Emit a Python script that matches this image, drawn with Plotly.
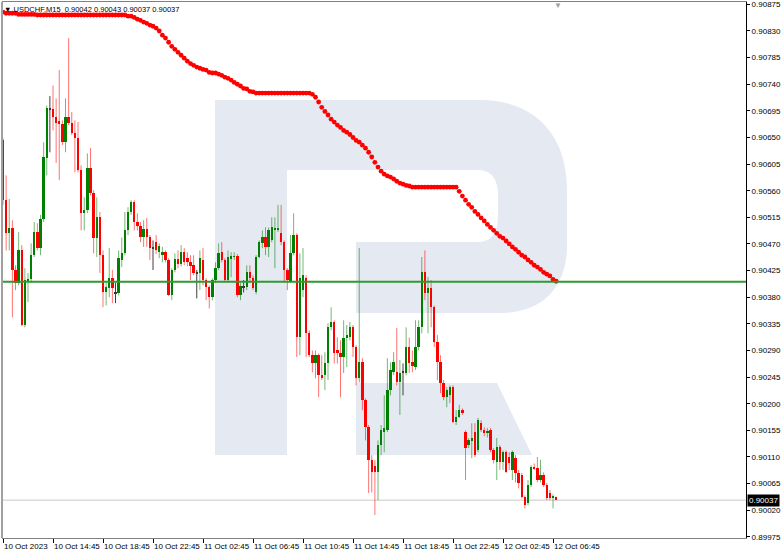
import plotly.graph_objects as go

# ---------------- data (USDCHF, M15) ----------------
open_ = [
    0.90645, 0.90544, 0.90488, 0.90497, 0.90426, 0.90404, 0.90459, 0.90333, 0.90405, 0.90410,
    0.90451, 0.90490, 0.90463, 0.90512, 0.90615, 0.90698, 0.90698, 0.90684, 0.90678, 0.90672,
    0.90642, 0.90684, 0.90674, 0.90657, 0.90649, 0.90595, 0.90522, 0.90527, 0.90598, 0.90556,
    0.90480, 0.90515, 0.90451, 0.90388, 0.90395, 0.90412, 0.90387, 0.90387, 0.90443, 0.90454,
    0.90493, 0.90524, 0.90541, 0.90507, 0.90500, 0.90481, 0.90495, 0.90481, 0.90463, 0.90473,
    0.90456, 0.90453, 0.90456, 0.90443, 0.90383, 0.90426, 0.90444, 0.90436, 0.90456, 0.90446,
    0.90439, 0.90434, 0.90421, 0.90421, 0.90443, 0.90409, 0.90397, 0.90380, 0.90409, 0.90429,
    0.90456, 0.90443, 0.90409, 0.90446, 0.90448, 0.90449, 0.90383, 0.90397, 0.90397, 0.90422,
    0.90412, 0.90388, 0.90448, 0.90471, 0.90481, 0.90465, 0.90476, 0.90493, 0.90495, 0.90488,
    0.90473, 0.90426, 0.90405, 0.90454, 0.90485, 0.90312, 0.90392, 0.90412, 0.90319, 0.90282,
    0.90268, 0.90282, 0.90248, 0.90248, 0.90268, 0.90329, 0.90338, 0.90290, 0.90285, 0.90279,
    0.90311, 0.90312, 0.90329, 0.90296, 0.90243, 0.90270, 0.90206, 0.90160, 0.90105, 0.90094,
    0.90084, 0.90130, 0.90152, 0.90155, 0.90223, 0.90253, 0.90253, 0.90236, 0.90253, 0.90252,
    0.90296, 0.90270, 0.90262, 0.90296, 0.90329, 0.90422, 0.90387, 0.90395, 0.90363, 0.90304,
    0.90270, 0.90235, 0.90211, 0.90214, 0.90228, 0.90169, 0.90177, 0.90189, 0.90152, 0.90130,
    0.90137, 0.90152, 0.90121, 0.90167, 0.90155, 0.90150, 0.90155, 0.90121, 0.90101, 0.90127,
    0.90101, 0.90118, 0.90110, 0.90088, 0.90108, 0.90083, 0.90079, 0.90042, 0.90032, 0.90062,
    0.90093, 0.90091, 0.90071, 0.90079, 0.90062, 0.90049, 0.90040, 0.90042,
]
high = [
    0.90649, 0.90586, 0.90546, 0.90510, 0.90434, 0.90490, 0.90468, 0.90429, 0.90421, 0.90471,
    0.90507, 0.90505, 0.90519, 0.90642, 0.90704, 0.90720, 0.90738, 0.90716, 0.90764, 0.90679,
    0.90716, 0.90818, 0.90693, 0.90679, 0.90676, 0.90603, 0.90549, 0.90623, 0.90632, 0.90561,
    0.90549, 0.90524, 0.90459, 0.90404, 0.90463, 0.90426, 0.90404, 0.90459, 0.90481, 0.90524,
    0.90532, 0.90544, 0.90544, 0.90522, 0.90507, 0.90510, 0.90514, 0.90485, 0.90476, 0.90485,
    0.90471, 0.90465, 0.90459, 0.90446, 0.90429, 0.90454, 0.90459, 0.90468, 0.90463, 0.90456,
    0.90451, 0.90451, 0.90426, 0.90459, 0.90463, 0.90412, 0.90400, 0.90412, 0.90439, 0.90471,
    0.90473, 0.90446, 0.90459, 0.90456, 0.90456, 0.90453, 0.90404, 0.90409, 0.90434, 0.90434,
    0.90417, 0.90451, 0.90476, 0.90493, 0.90498, 0.90498, 0.90515, 0.90515, 0.90536, 0.90536,
    0.90476, 0.90429, 0.90485, 0.90522, 0.90488, 0.90454, 0.90463, 0.90417, 0.90324, 0.90290,
    0.90290, 0.90285, 0.90282, 0.90287, 0.90336, 0.90363, 0.90341, 0.90312, 0.90307, 0.90341,
    0.90333, 0.90338, 0.90333, 0.90299, 0.90463, 0.90277, 0.90209, 0.90164, 0.90113, 0.90105,
    0.90138, 0.90164, 0.90214, 0.90277, 0.90270, 0.90287, 0.90328, 0.90274, 0.90268, 0.90329,
    0.90312, 0.90290, 0.90341, 0.90341, 0.90448, 0.90459, 0.90414, 0.90409, 0.90366, 0.90316,
    0.90282, 0.90240, 0.90228, 0.90231, 0.90231, 0.90189, 0.90198, 0.90192, 0.90155, 0.90142,
    0.90167, 0.90167, 0.90176, 0.90172, 0.90160, 0.90159, 0.90159, 0.90125, 0.90142, 0.90130,
    0.90121, 0.90121, 0.90118, 0.90121, 0.90113, 0.90088, 0.90083, 0.90045, 0.90071, 0.90096,
    0.90099, 0.90110, 0.90105, 0.90084, 0.90066, 0.90054, 0.90047, 0.90043,
]
low = [
    0.90536, 0.90459, 0.90459, 0.90346, 0.90392, 0.90400, 0.90331, 0.90329, 0.90372, 0.90404,
    0.90448, 0.90459, 0.90451, 0.90507, 0.90586, 0.90625, 0.90662, 0.90607, 0.90578, 0.90637,
    0.90625, 0.90671, 0.90654, 0.90591, 0.90591, 0.90493, 0.90493, 0.90522, 0.90552, 0.90454,
    0.90448, 0.90421, 0.90363, 0.90366, 0.90380, 0.90370, 0.90370, 0.90383, 0.90431, 0.90451,
    0.90485, 0.90519, 0.90493, 0.90493, 0.90473, 0.90465, 0.90465, 0.90443, 0.90426, 0.90453,
    0.90446, 0.90439, 0.90439, 0.90382, 0.90375, 0.90422, 0.90429, 0.90432, 0.90434, 0.90432,
    0.90409, 0.90417, 0.90378, 0.90392, 0.90400, 0.90375, 0.90361, 0.90375, 0.90404, 0.90426,
    0.90439, 0.90405, 0.90405, 0.90414, 0.90443, 0.90380, 0.90375, 0.90388, 0.90392, 0.90405,
    0.90392, 0.90385, 0.90446, 0.90463, 0.90451, 0.90448, 0.90473, 0.90429, 0.90490, 0.90468,
    0.90405, 0.90392, 0.90404, 0.90451, 0.90279, 0.90282, 0.90380, 0.90279, 0.90279, 0.90253,
    0.90243, 0.90211, 0.90240, 0.90223, 0.90240, 0.90324, 0.90268, 0.90268, 0.90211, 0.90252,
    0.90262, 0.90307, 0.90279, 0.90231, 0.90236, 0.90189, 0.90138, 0.90049, 0.90050, 0.90012,
    0.90037, 0.90113, 0.90118, 0.90152, 0.90214, 0.90248, 0.90231, 0.90181, 0.90214, 0.90248,
    0.90252, 0.90253, 0.90257, 0.90290, 0.90319, 0.90375, 0.90319, 0.90329, 0.90296, 0.90240,
    0.90218, 0.90206, 0.90194, 0.90201, 0.90167, 0.90164, 0.90176, 0.90181, 0.90071, 0.90125,
    0.90108, 0.90110, 0.90118, 0.90152, 0.90145, 0.90143, 0.90118, 0.90099, 0.90071, 0.90088,
    0.90088, 0.90083, 0.90088, 0.90071, 0.90067, 0.90057, 0.90040, 0.90023, 0.90028, 0.90059,
    0.90088, 0.90067, 0.90067, 0.90059, 0.90037, 0.90037, 0.90023, 0.90037,
]
close = [
    0.90544, 0.90488, 0.90497, 0.90426, 0.90404, 0.90459, 0.90333, 0.90409, 0.90410, 0.90451,
    0.90490, 0.90463, 0.90512, 0.90617, 0.90700, 0.90698, 0.90684, 0.90674, 0.90672, 0.90642,
    0.90684, 0.90674, 0.90657, 0.90649, 0.90595, 0.90522, 0.90527, 0.90598, 0.90556, 0.90480,
    0.90515, 0.90451, 0.90388, 0.90397, 0.90412, 0.90395, 0.90387, 0.90446, 0.90454, 0.90493,
    0.90524, 0.90541, 0.90507, 0.90500, 0.90481, 0.90495, 0.90481, 0.90463, 0.90463, 0.90459,
    0.90466, 0.90456, 0.90443, 0.90383, 0.90426, 0.90444, 0.90436, 0.90456, 0.90439, 0.90439,
    0.90432, 0.90421, 0.90421, 0.90446, 0.90409, 0.90397, 0.90380, 0.90409, 0.90429, 0.90454,
    0.90443, 0.90409, 0.90448, 0.90449, 0.90449, 0.90383, 0.90399, 0.90397, 0.90422, 0.90412,
    0.90395, 0.90448, 0.90473, 0.90481, 0.90465, 0.90493, 0.90498, 0.90497, 0.90497, 0.90473,
    0.90426, 0.90409, 0.90454, 0.90485, 0.90312, 0.90412, 0.90417, 0.90319, 0.90282, 0.90268,
    0.90282, 0.90248, 0.90245, 0.90268, 0.90329, 0.90338, 0.90285, 0.90285, 0.90279, 0.90311,
    0.90316, 0.90329, 0.90296, 0.90243, 0.90270, 0.90206, 0.90160, 0.90105, 0.90084, 0.90084,
    0.90130, 0.90155, 0.90159, 0.90223, 0.90257, 0.90270, 0.90236, 0.90252, 0.90253, 0.90296,
    0.90268, 0.90263, 0.90296, 0.90329, 0.90422, 0.90387, 0.90395, 0.90363, 0.90304, 0.90270,
    0.90235, 0.90211, 0.90223, 0.90228, 0.90169, 0.90177, 0.90189, 0.90184, 0.90125, 0.90138,
    0.90142, 0.90113, 0.90172, 0.90155, 0.90150, 0.90154, 0.90121, 0.90105, 0.90127, 0.90101,
    0.90118, 0.90084, 0.90099, 0.90118, 0.90083, 0.90066, 0.90042, 0.90028, 0.90062, 0.90093,
    0.90091, 0.90071, 0.90079, 0.90062, 0.90040, 0.90040, 0.90044, 0.90037,
]
# red dotted indicator line, one value per bar
ma_line = [
    0.90862, 0.90860, 0.90860, 0.90860, 0.90860, 0.90858, 0.90858, 0.90858, 0.90858, 0.90858,
    0.90858, 0.90857, 0.90857, 0.90857, 0.90857, 0.90857, 0.90857, 0.90857, 0.90857, 0.90857,
    0.90857, 0.90857, 0.90857, 0.90857, 0.90857, 0.90857, 0.90857, 0.90857, 0.90857, 0.90857,
    0.90857, 0.90857, 0.90857, 0.90857, 0.90857, 0.90857, 0.90857, 0.90857, 0.90857, 0.90857,
    0.90855, 0.90855, 0.90853, 0.90850, 0.90848, 0.90845, 0.90843, 0.90840, 0.90838, 0.90835,
    0.90830, 0.90823, 0.90818, 0.90811, 0.90804, 0.90799, 0.90794, 0.90789, 0.90784, 0.90779,
    0.90775, 0.90772, 0.90769, 0.90767, 0.90765, 0.90764, 0.90760, 0.90759, 0.90759, 0.90757,
    0.90755, 0.90752, 0.90750, 0.90747, 0.90743, 0.90740, 0.90737, 0.90733, 0.90732, 0.90728,
    0.90727, 0.90725, 0.90725, 0.90725, 0.90725, 0.90725, 0.90725, 0.90725, 0.90725, 0.90725,
    0.90725, 0.90725, 0.90725, 0.90725, 0.90725, 0.90725, 0.90725, 0.90725, 0.90725, 0.90723,
    0.90718, 0.90710, 0.90701, 0.90694, 0.90688, 0.90681, 0.90676, 0.90671, 0.90667, 0.90662,
    0.90659, 0.90655, 0.90650, 0.90645, 0.90642, 0.90637, 0.90632, 0.90625, 0.90617, 0.90608,
    0.90600, 0.90593, 0.90588, 0.90585, 0.90583, 0.90580, 0.90576, 0.90573, 0.90571, 0.90569,
    0.90568, 0.90566, 0.90566, 0.90566, 0.90566, 0.90566, 0.90566, 0.90566, 0.90566, 0.90566,
    0.90566, 0.90566, 0.90566, 0.90566, 0.90566, 0.90566, 0.90559, 0.90551, 0.90544, 0.90537,
    0.90532, 0.90525, 0.90520, 0.90514, 0.90509, 0.90503, 0.90498, 0.90493, 0.90488, 0.90483,
    0.90480, 0.90475, 0.90470, 0.90465, 0.90461, 0.90456, 0.90451, 0.90448, 0.90443, 0.90439,
    0.90434, 0.90431, 0.90427, 0.90422, 0.90419, 0.90416, 0.90410, 0.90407,
]
level_line = 0.90406
bid_price = 0.90037

x_tick_bars = [0, 16, 32, 48, 64, 80, 96, 112, 128, 144, 160, 176]
x_tick_labels = ["10 Oct 2023", "10 Oct 14:45", "10 Oct 18:45", "10 Oct 22:45",
                 "11 Oct 02:45", "11 Oct 06:45", "11 Oct 10:45", "11 Oct 14:45",
                 "11 Oct 18:45", "11 Oct 22:45", "12 Oct 02:45", "12 Oct 06:45"]
y_tick_labels = ["0.89975", "0.90020", "0.90065", "0.90110", "0.90155", "0.90200",
                 "0.90245", "0.90290", "0.90335", "0.90380", "0.90425", "0.90470",
                 "0.90515", "0.90560", "0.90605", "0.90650", "0.90695", "0.90740",
                 "0.90785", "0.90830", "0.90875"]
title_text = "▼ USDCHF,M15  0.90042 0.90043 0.90037 0.90037"

# ---------------- styling ----------------
FONT = "Liberation Sans, Arial, sans-serif"
UP_C, DN_C, DJ_C = "#008000", "#ff0000", "#303030"
UP_W, DN_W, DJ_W = "rgba(0,128,0,0.55)", "rgba(255,0,0,0.55)", "#404040"
W, H = 782, 555
ML, MR, MT, MB = 2, 36, 2, 17

n = len(open_)
idx = list(range(n))

kind = ["up" if c > o else ("dn" if c < o else "dj") for o, c in zip(open_, close)]
min_h = 0.000012
body_base = [min(o, c) if k != "dj" else o - min_h / 2 for o, c, k in zip(open_, close, kind)]
body_len = [max(abs(c - o), min_h) for o, c in zip(open_, close)]
body_col = [{"up": UP_C, "dn": DN_C, "dj": DJ_C}[k] for k in kind]


def wick_xy(which):
    xs, ys = [], []
    for i, k in enumerate(kind):
        if k == which:
            xs += [i, i, None]
            ys += [low[i], high[i], None]
    return xs, ys


fig = go.Figure()

for k, col in (("up", UP_W), ("dn", DN_W), ("dj", DJ_W)):
    wx, wy = wick_xy(k)
    fig.add_trace(go.Scatter(x=wx, y=wy, mode="lines", line=dict(color=col, width=1),
                             hoverinfo="skip", showlegend=False))

fig.add_trace(go.Bar(x=idx, y=body_len, base=body_base, width=0.78,
                     marker=dict(color=body_col, line=dict(width=0)),
                     showlegend=False, hoverinfo="skip"))

fig.add_trace(go.Scatter(x=idx, y=ma_line, mode="markers",
                         marker=dict(color="#ff0000", size=4.8, line=dict(width=0)),
                         showlegend=False, hoverinfo="skip"))

# ---------------- watermark "R" logo (paper coords from pixel positions) ----------------
pw, ph = W - ML - MR, H - MT - MB


def P(px, py):
    return f"{(px - ML) / pw:.5f},{(H - MB - py) / ph:.5f}"


logo_col = "#e4e9f2"
stem = f"M {P(215,100)} L {P(287,100)} L {P(287,455)} L {P(215,455)} Z"
bowl = (f"M {P(287,100)} L {P(480,100)} C {P(535,100)} {P(567,135)} {P(567,190)} "
        f"L {P(567,245)} C {P(567,290)} {P(540,313)} {P(500,313)} L {P(356,313)} "
        f"L {P(356,242)} L {P(478,242)} C {P(492,242)} {P(498,232)} {P(498,215)} "
        f"L {P(498,195)} C {P(498,180)} {P(492,170)} {P(478,170)} L {P(287,170)} Z")
leg = f"M {P(356,383)} L {P(497,383)} L {P(532,455)} L {P(356,455)} Z"

shapes = []
for pth in (stem, bowl, leg):
    shapes.append(dict(type="path", path=pth, xref="paper", yref="paper",
                       fillcolor=logo_col, line=dict(width=0), layer="below"))

# bid line and horizontal level
shapes.append(dict(type="line", xref="paper", x0=0, x1=1, yref="y", y0=bid_price, y1=bid_price,
                   line=dict(color="#c8c8c8", width=1), layer="below"))
shapes.append(dict(type="line", xref="paper", x0=0, x1=1, yref="y", y0=level_line, y1=level_line,
                   line=dict(color="#2f9a2f", width=2), layer="above"))
# left border
shapes.append(dict(type="line", xref="paper", yref="paper", x0=0, x1=0, y0=0, y1=1,
                   line=dict(color="#a0a0a0", width=2), layer="above"))

annotations = [
    dict(xref="paper", yref="paper", x=0, y=1, xanchor="left", yanchor="top",
         xshift=0, yshift=-1, text=title_text, showarrow=False,
         font=dict(family=FONT, size=7.5, color="#000000")),
    dict(xref="paper", yref="y", x=1, y=bid_price, xanchor="left", yanchor="middle",
         xshift=1, text="0.90037", showarrow=False, bgcolor="#000000", borderpad=1,
         font=dict(family=FONT, size=8, color="#ffffff")),
    dict(xref="paper", yref="paper", x=(558 - ML) / pw, y=1, xanchor="center", yanchor="top",
         yshift=3, text="▼", showarrow=False, font=dict(size=8, color="#a0a0a0")),
]

fig.update_layout(
    width=W, height=H,
    margin=dict(l=ML, r=MR, t=MT, b=MB, pad=0),
    paper_bgcolor="#ffffff", plot_bgcolor="#ffffff",
    showlegend=False, bargap=0,
    shapes=shapes, annotations=annotations,
    font=dict(family=FONT, size=8, color="#000000"),
    xaxis=dict(range=[-0.32, 237.76], showgrid=False, zeroline=False,
               tickmode="array", tickvals=x_tick_bars, ticktext=x_tick_labels,
               tickangle=0,
               ticks="outside", ticklen=4, tickcolor="#000000", tickwidth=1,
               ticklabelposition="outside right",
               showline=True, linecolor="#808080", linewidth=1, mirror=True,
               tickfont=dict(family=FONT, size=8, color="#000000"), automargin=False),
    yaxis=dict(side="right", range=[0.89973, 0.90879], showgrid=False, zeroline=False,
               tickmode="array", tickvals=[float(s) for s in y_tick_labels], ticktext=y_tick_labels,
               ticks="outside", ticklen=3, tickcolor="#000000", tickwidth=1,
               showline=True, linecolor="#000000", linewidth=1,
               tickfont=dict(family=FONT, size=8, color="#000000"), automargin=False),
)

fig.write_html("out.html", config={"displayModeBar": False},
               post_script="document.body.style.margin='0';document.body.style.overflow='hidden';")
